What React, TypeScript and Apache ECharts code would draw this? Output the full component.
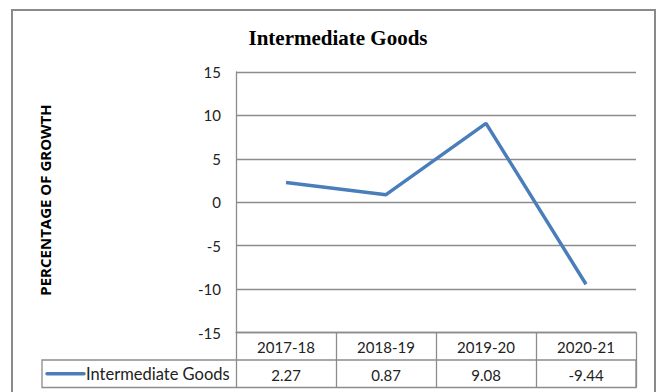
import React, { useEffect, useRef } from "react";
import * as echarts from "echarts";

const title = "Intermediate Goods";
const seriesName = "Intermediate Goods";
const yAxisName = "PERCENTAGE OF GROWTH";
const categories = ["2017-18", "2018-19", "2019-20", "2020-21"];
const values = [2.27, 0.87, 9.08, -9.44];
const yMin = -15;
const yMax = 15;
const yInterval = 5;

const LINE_COLOR = "#4A7EBB";
const GRID_COLOR = "#8C8C8C";
const FONT = "Lato";

export default function App() {
  const ref = useRef<HTMLDivElement>(null);
  useEffect(() => {
    if (!ref.current) return;
    const chart = echarts.init(ref.current, null, { renderer: "svg" });
    const gLeft = 236;
    const gTop = 72;
    const gWidth = 400;
    const gHeight = 260.5;
    const gBottom = gTop + gHeight;
    const rowH = 27.5;
    const tableLeft = 42;
    chart.setOption({
      animation: false,
      backgroundColor: "#ffffff",
      title: {
        text: title,
        left: 333,
        textAlign: "center",
        top: 22,
        textStyle: {
          fontFamily: "Liberation Serif",
          fontWeight: "bold",
          fontSize: 21,
          color: "#000",
        },
      },
      grid: { left: gLeft, top: gTop, width: gWidth, height: gHeight, containLabel: false },
      xAxis: [
        {
          type: "category",
          data: categories,
          position: "bottom",
          boundaryGap: true,
          axisLine: { show: true, onZero: false, lineStyle: { color: GRID_COLOR, width: 1.3 } },
          axisTick: {
            show: true,
            inside: false,
            length: rowH * 2,
            lineStyle: { color: GRID_COLOR, width: 1.3 },
          },
          axisLabel: {
            margin: 7,
            fontFamily: FONT,
            fontSize: 15,
            color: "#222",
          },
          splitLine: { show: false },
        },
        {
          type: "category",
          data: values.map((v) => v.toFixed(2)),
          position: "bottom",
          offset: rowH,
          boundaryGap: true,
          axisLine: { show: false, onZero: false },
          axisTick: { show: false },
          axisLabel: {
            margin: 7,
            fontFamily: FONT,
            fontSize: 15,
            color: "#222",
          },
          splitLine: { show: false },
        },
      ],
      yAxis: {
        type: "value",
        min: yMin,
        max: yMax,
        interval: yInterval,
        axisLine: { show: true, lineStyle: { color: GRID_COLOR, width: 1.3 } },
        axisTick: { show: false },
        axisLabel: {
          margin: 15,
          fontFamily: FONT,
          fontSize: 15,
          color: "#222",
        },
        splitLine: { show: true, lineStyle: { color: GRID_COLOR, width: 1.3 } },
      },
      series: [
        {
          name: seriesName,
          type: "line",
          data: values,
          symbol: "none",
          lineStyle: { color: LINE_COLOR, width: 3.5 },
          itemStyle: { color: LINE_COLOR },
        },
      ],
      graphic: [
        {
          type: "rect",
          shape: { x: 12, y: 10, width: 643, height: 400 },
          style: { fill: "none", stroke: "#8A8A8A", lineWidth: 2 },
          silent: true,
        },
        {
          type: "text",
          x: 45,
          y: 200,
          rotation: Math.PI / 2,
          style: {
            text: yAxisName,
            fontFamily: "Open Sans",
            fontWeight: "bold",
            fontSize: 15,
            fill: "#000",
            align: "center",
            verticalAlign: "middle",
          },
        },
        {
          type: "rect",
          shape: {
            x: tableLeft,
            y: gBottom + rowH,
            width: gLeft + gWidth - tableLeft,
            height: rowH,
          },
          style: { fill: "none", stroke: GRID_COLOR, lineWidth: 1.3 },
          silent: true,
        },
        {
          type: "line",
          shape: {
            x1: tableLeft + 5,
            y1: gBottom + rowH * 1.5,
            x2: tableLeft + 42,
            y2: gBottom + rowH * 1.5,
          },
          style: { stroke: LINE_COLOR, lineWidth: 3.5, lineCap: "round" },
        },
        {
          type: "text",
          x: tableLeft + 44,
          y: gBottom + rowH * 1.5,
          style: {
            text: seriesName,
            fontFamily: FONT,
            fontSize: 16.5,
            fill: "#222",
            verticalAlign: "middle",
          },
        },
      ],
    });
    return () => chart.dispose();
  }, []);
  return (
    <div
      ref={ref}
      style={{ position: "fixed", left: 0, top: 0, width: 657, height: 392 }}
    />
  );
}
